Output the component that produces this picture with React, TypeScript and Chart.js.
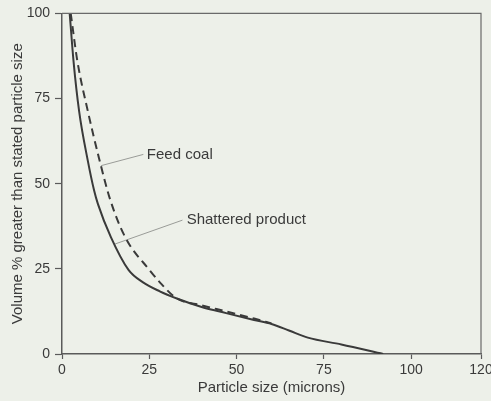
import React, { useEffect, useRef } from "react";
import { Chart, registerables } from "chart.js";

Chart.register(...registerables);

// Shattered product (solid line)
const shatteredX = [2.2, 3.3, 4.9, 7.4, 9.2, 10.3, 14.0, 19.1, 23.1, 28.0, 32.9, 40.0, 47.0, 55.0, 60.0, 65.0, 70.4, 80.0, 92.0];
const shatteredY = [100, 86, 71.3, 56.7, 48, 44, 34.3, 24.6, 21.1, 18.4, 16.3, 13.8, 12.0, 10.0, 8.8, 6.9, 4.8, 2.8, 0];

// Feed coal (dashed line)
const feedX = [2.5, 4.4, 7.4, 10.6, 13.9, 18.1, 25.1, 28.5, 32.9, 40.0, 47.0, 55.0, 60.0];
const feedY = [100, 86, 71.3, 57.5, 45, 34.3, 24.6, 20.5, 16.3, 14.3, 12.5, 10.4, 9.0];

// Leader lines for the labels
const feedLeaderX = [11.2, 23.3];
const feedLeaderY = [55.3, 58.6];
const shatteredLeaderX = [15.2, 34.5];
const shatteredLeaderY = [32.3, 39.3];

// Label texts and anchor positions (data units)
const labelTexts = ["Feed coal", "Shattered product"];
const labelX = [24.3, 35.7];
const labelY = [58.6, 39.4];

const xTickValues = [0, 25, 50, 75, 100, 120];
const yTickValues = [0, 25, 50, 75, 100];

const INK = "#3a3a3a";
const AXIS = "#5a5a5a";
const BG = "#edf0e9";
const FONT = "'Liberation Sans', Arial, Helvetica, sans-serif";

const toPoints = (xs: number[], ys: number[]) => xs.map((x, i) => ({ x, y: ys[i] }));

const framePlugin = {
  id: "frame",
  beforeDraw(chart: any) {
    const { ctx, width, height } = chart;
    ctx.save();
    ctx.fillStyle = BG;
    ctx.fillRect(0, 0, width, height);
    ctx.restore();
  },
  afterDraw(chart: any) {
    const { ctx, chartArea } = chart;
    ctx.save();
    ctx.strokeStyle = "#6a6a6a";
    ctx.lineWidth = 1.2;
    ctx.beginPath();
    ctx.moveTo(chartArea.left, chartArea.top);
    ctx.lineTo(chartArea.right, chartArea.top);
    ctx.lineTo(chartArea.right, chartArea.bottom);
    ctx.stroke();
    // labels
    const xs = chart.scales.x;
    const ys = chart.scales.y;
    ctx.fillStyle = INK;
    ctx.font = `15px ${FONT}`;
    ctx.textAlign = "left";
    ctx.textBaseline = "middle";
    labelTexts.forEach((t, i) => {
      ctx.fillText(t, xs.getPixelForValue(labelX[i]), ys.getPixelForValue(labelY[i]));
    });
    ctx.restore();
  },
};

export default function App() {
  const ref = useRef<HTMLCanvasElement>(null);
  useEffect(() => {
    document.body.style.margin = "0";
    document.body.style.background = BG;
    const chart = new Chart(ref.current as HTMLCanvasElement, {
      type: "scatter",
      data: {
        datasets: [
          {
            label: "Shattered product",
            data: toPoints(shatteredX, shatteredY),
            showLine: true,
            borderColor: INK,
            borderWidth: 2,
            pointRadius: 0,
            cubicInterpolationMode: "monotone",
          },
          {
            label: "Feed coal",
            data: toPoints(feedX, feedY),
            showLine: true,
            borderColor: INK,
            borderWidth: 2,
            borderDash: [8, 5],
            pointRadius: 0,
            cubicInterpolationMode: "monotone",
          },
          {
            label: "leader1",
            data: toPoints(feedLeaderX, feedLeaderY),
            showLine: true,
            borderColor: "#9a9c98",
            borderWidth: 1,
            pointRadius: 0,
          },
          {
            label: "leader2",
            data: toPoints(shatteredLeaderX, shatteredLeaderY),
            showLine: true,
            borderColor: "#9a9c98",
            borderWidth: 1,
            pointRadius: 0,
          },
        ] as any,
      },
      options: {
        animation: false,
        responsive: false,
        maintainAspectRatio: false,
        layout: { padding: { left: 0, right: 10, top: 12, bottom: 0 } },
        plugins: { legend: { display: false }, tooltip: { enabled: false } },
        scales: {
          x: {
            type: "linear",
            min: 0,
            max: 120,
            afterBuildTicks: (s: any) => {
              s.ticks = xTickValues.map((v) => ({ value: v }));
            },
            afterFit: (s: any) => {
              s.height = 47;
              s.paddingRight = 0;
              s.paddingLeft = 0;
            },
            ticks: {
              color: INK,
              font: { family: FONT, size: 14 },
              padding: 3,
              maxRotation: 0,
              autoSkip: false,
            },
            grid: {
              drawOnChartArea: false,
              drawTicks: true,
              tickLength: 5,
              tickColor: AXIS,
              tickWidth: 1.2,
            },
            border: { display: true, color: AXIS, width: 1.5 },
            title: {
              display: true,
              text: "Particle size (microns)",
              color: INK,
              font: { family: FONT, size: 15 },
              padding: { top: 0, bottom: 4 },
            },
          },
          y: {
            type: "linear",
            min: 0,
            max: 100,
            afterBuildTicks: (s: any) => {
              s.ticks = yTickValues.map((v) => ({ value: v }));
            },
            afterFit: (s: any) => {
              s.width = 62;
            },
            ticks: {
              color: INK,
              font: { family: FONT, size: 14 },
              padding: 5,
              autoSkip: false,
            },
            grid: {
              drawOnChartArea: false,
              drawTicks: true,
              tickLength: 7,
              tickColor: AXIS,
              tickWidth: 1.2,
            },
            border: { display: true, color: AXIS, width: 1.5 },
            title: {
              display: true,
              text: "Volume % greater than stated particle size",
              color: INK,
              font: { family: FONT, size: 15 },
              padding: { top: 9, bottom: 0 },
            },
          },
        },
      },
      plugins: [framePlugin],
    } as any);
    return () => chart.destroy();
  }, []);
  return (
    <div style={{ width: 491, height: 401, background: BG }}>
      <canvas ref={ref} width={491} height={401} style={{ display: "block" }} />
    </div>
  );
}
